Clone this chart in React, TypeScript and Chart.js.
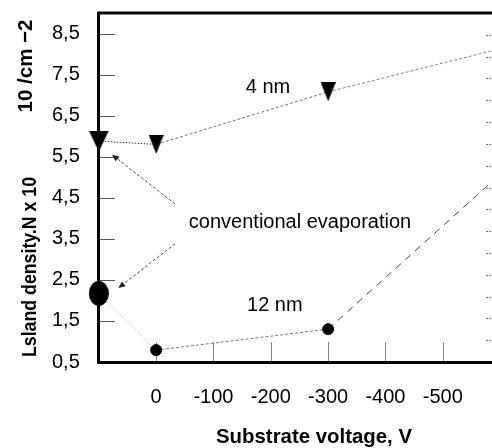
import React, { useEffect, useRef } from "react";
import { Chart, registerables } from "chart.js";

Chart.register(...registerables);

// ---------- data ----------
const CONVENTIONAL_X = 100; // position used for "conventional evaporation" (left edge)
const voltageTicks = [0, -100, -200, -300, -400, -500];
const yTicks = [0.5, 1.5, 2.5, 3.5, 4.5, 5.5, 6.5, 7.5, 8.5];
const xRangeMin = -605;
const xRangeMax = 100;
const yRangeMin = 0.5;
const yRangeMax = 9;
const rightTickDivisions = 16;

const nm4X = [CONVENTIONAL_X, 0, -300, -600];
const nm4Y = [5.88, 5.8, 7.08, 8.13];
const nm12X = [CONVENTIONAL_X, 0, -300, -600];
const nm12Y = [2.17, 0.79, 1.3, 5.07];

const noteTexts = ["4 nm", "12 nm", "conventional evaporation"];
const noteX = [-195, -207, -251];
const noteY = [7.18, 1.87, 3.89];

const arrowFromX = [-33, -33];
const arrowFromY = [4.35, 3.38];
const arrowToX = [77, 66];
const arrowToY = [5.55, 2.3];

const xTitle = "Substrate voltage, V";
const yTitleMain = "Lsland density.N x 10";
const yTitleUnit = "10 /cm \u22122";

const FONT = "'Liberation Sans', Arial, sans-serif";

function makeTriangle(w: number, h: number) {
  const c = document.createElement("canvas");
  c.width = w;
  c.height = h;
  const g = c.getContext("2d")!;
  g.fillStyle = "#000";
  g.beginPath();
  g.moveTo(0, 0);
  g.lineTo(w, 0);
  g.lineTo(w / 2, h);
  g.closePath();
  g.fill();
  return c;
}

function makeEllipse(w: number, h: number) {
  const c = document.createElement("canvas");
  c.width = w;
  c.height = h;
  const g = c.getContext("2d")!;
  g.fillStyle = "#000";
  g.beginPath();
  g.ellipse(w / 2, h / 2, w / 2, h / 2, 0, 0, Math.PI * 2);
  g.fill();
  return c;
}

function fitText(
  ctx: CanvasRenderingContext2D,
  text: string,
  cx: number,
  cy: number,
  font: string,
  target: number,
  rotate: boolean
) {
  ctx.save();
  ctx.font = font;
  ctx.fillStyle = "#000";
  ctx.textAlign = "center";
  ctx.textBaseline = "middle";
  const w = ctx.measureText(text).width;
  ctx.translate(cx, cy);
  if (rotate) ctx.rotate(-Math.PI / 2);
  ctx.scale(target / w, 1);
  ctx.fillText(text, 0, 0);
  ctx.restore();
}

function drawArrow(ctx: CanvasRenderingContext2D, x1: number, y1: number, x2: number, y2: number) {
  const ang = Math.atan2(y2 - y1, x2 - x1);
  const head = 7;
  const ex = x2 - Math.cos(ang) * head;
  const ey = y2 - Math.sin(ang) * head;
  ctx.save();
  ctx.strokeStyle = "#555";
  ctx.lineWidth = 1;
  ctx.setLineDash([3, 2]);
  ctx.beginPath();
  ctx.moveTo(x1, y1);
  ctx.lineTo(ex, ey);
  ctx.stroke();
  ctx.setLineDash([]);
  ctx.fillStyle = "#222";
  ctx.beginPath();
  ctx.moveTo(x2, y2);
  ctx.lineTo(ex + Math.sin(ang) * 3, ey - Math.cos(ang) * 3);
  ctx.lineTo(ex - Math.sin(ang) * 3, ey + Math.cos(ang) * 3);
  ctx.closePath();
  ctx.fill();
  ctx.restore();
}

const decorPlugin = {
  id: "decor",
  beforeDatasetsDraw(chart: any) {
    const { ctx, chartArea: a, scales } = chart;
    const x = scales.x;
    const y = scales.y;
    ctx.save();
    // top frame
    ctx.strokeStyle = "#000";
    ctx.lineWidth = 3;
    ctx.beginPath();
    ctx.moveTo(a.left - 1.5, a.top);
    ctx.lineTo(a.right, a.top);
    ctx.stroke();
    // inward ticks on left axis
    ctx.lineWidth = 1;
    ctx.strokeStyle = "#555";
    yTicks.forEach((v) => {
      if (v === yRangeMin) return;
      const py = Math.round(y.getPixelForValue(v)) + 0.5;
      ctx.beginPath();
      ctx.moveTo(a.left + 1, py);
      ctx.lineTo(a.left + 16, py);
      ctx.stroke();
    });
    // inward ticks on bottom axis
    ctx.strokeStyle = "#888";
    voltageTicks.forEach((v) => {
      const px = Math.round(x.getPixelForValue(v)) + 0.5;
      ctx.beginPath();
      ctx.moveTo(px, a.bottom - 1);
      ctx.lineTo(px, a.bottom - 20);
      ctx.stroke();
    });
    // right-hand ticks
    ctx.strokeStyle = "#777";
    ctx.setLineDash([2, 1]);
    for (let i = 1; i < rightTickDivisions; i++) {
      const v = yRangeMin + (i * (yRangeMax - yRangeMin)) / rightTickDivisions;
      const py = Math.round(y.getPixelForValue(v)) + 0.5;
      ctx.beginPath();
      ctx.moveTo(a.right - 17, py);
      ctx.lineTo(a.right, py);
      ctx.stroke();
    }
    ctx.restore();
  },
  afterDatasetsDraw(chart: any) {
    const { ctx, scales } = chart;
    const x = scales.x;
    const y = scales.y;
    for (let i = 0; i < arrowFromX.length; i++) {
      drawArrow(
        ctx,
        x.getPixelForValue(arrowFromX[i]),
        y.getPixelForValue(arrowFromY[i]),
        x.getPixelForValue(arrowToX[i]),
        y.getPixelForValue(arrowToY[i])
      );
    }
    ctx.save();
    ctx.font = `20px ${FONT}`;
    ctx.fillStyle = "#000";
    ctx.textAlign = "center";
    ctx.textBaseline = "middle";
    noteTexts.forEach((t, i) => {
      ctx.fillText(t, x.getPixelForValue(noteX[i]), y.getPixelForValue(noteY[i]));
    });
    ctx.restore();
  },
  afterDraw(chart: any) {
    const { ctx } = chart;
    fitText(ctx, xTitle, 314, 437, `bold 21px ${FONT}`, 196, false);
    fitText(ctx, yTitleMain, 30, 267, `bold 21px ${FONT}`, 180, true);
    fitText(ctx, yTitleUnit, 26, 66, `bold 21px ${FONT}`, 93, true);
  },
};

export default function App() {
  const ref = useRef<HTMLCanvasElement | null>(null);

  useEffect(() => {
    if (!ref.current) return;
    Chart.defaults.font.family = FONT;
    Chart.defaults.color = "#000";

    const bigTri = makeTriangle(20, 21);
    const smallTri = makeTriangle(15, 19);
    const bigDot = makeEllipse(20, 25);

    const dash4 = [[1.5, 1.5], [3, 2], [3, 2]];
    const col4 = ["#333", "#777", "#888"];
    const dash12 = [[1, 2], [3, 2], [7, 6]];
    const col12 = ["#aaa", "#777", "#444"];

    const chart = new Chart(ref.current, {
      type: "line",
      data: {
        datasets: [
          {
            label: "4 nm",
            data: nm4X.map((v, i) => ({ x: v, y: nm4Y[i] })),
            borderColor: "#777",
            borderWidth: 1,
            backgroundColor: "#000",
            pointStyle: [bigTri, smallTri, smallTri, smallTri] as any,
            pointRadius: 6,
            pointBorderWidth: 0,
            clip: false as any,
            segment: {
              borderDash: (c: any) => dash4[c.p0DataIndex],
              borderColor: (c: any) => col4[c.p0DataIndex],
            },
          },
          {
            label: "12 nm",
            data: nm12X.map((v, i) => ({ x: v, y: nm12Y[i] })),
            borderColor: "#777",
            borderWidth: 1,
            backgroundColor: "#000",
            pointBackgroundColor: "#000",
            pointBorderColor: "#000",
            pointStyle: [bigDot, "circle", "circle", "circle"] as any,
            pointRadius: 5.5,
            pointBorderWidth: 1,
            clip: false as any,
            segment: {
              borderDash: (c: any) => dash12[c.p0DataIndex],
              borderColor: (c: any) => col12[c.p0DataIndex],
            },
          },
        ],
      },
      options: {
        animation: false,
        responsive: false,
        maintainAspectRatio: false,
        layout: { padding: { left: 52, top: 13, right: 17, bottom: 39 } },
        plugins: { legend: { display: false }, tooltip: { enabled: false } },
        scales: {
          x: {
            type: "linear",
            reverse: true,
            min: xRangeMin,
            max: xRangeMax,
            afterBuildTicks: (s: any) => {
              s.ticks = voltageTicks.map((v) => ({ value: v }));
            },
            grid: {
              display: true,
              drawOnChartArea: false,
              drawTicks: true,
              tickLength: 23,
              color: "rgba(0,0,0,0)",
            },
            border: { display: true, width: 3, color: "#000" },
            ticks: {
              padding: 0,
              color: "#000",
              autoSkip: false,
              maxRotation: 0,
              font: { size: 20 },
              callback: (v: any) => String(v),
            },
          },
          y: {
            type: "linear",
            min: yRangeMin,
            max: yRangeMax,
            afterBuildTicks: (s: any) => {
              s.ticks = yTicks.map((v) => ({ value: v }));
            },
            grid: {
              display: true,
              drawOnChartArea: false,
              drawTicks: true,
              tickLength: 19,
              color: "rgba(0,0,0,0)",
            },
            border: { display: true, width: 3, color: "#000" },
            ticks: {
              padding: 0,
              color: "#000",
              font: { size: 20 },
              callback: (v: any) => Number(v).toFixed(1).replace(".", ","),
            },
          },
        },
      },
      plugins: [decorPlugin],
    });
    return () => chart.destroy();
  }, []);

  return (
    <div
      style={{
        position: "fixed",
        left: 0,
        top: 0,
        width: 492,
        height: 448,
        overflow: "hidden",
        background: "#fff",
      }}
    >
      <canvas ref={ref} width={520} height={448} style={{ display: "block" }} />
    </div>
  );
}
